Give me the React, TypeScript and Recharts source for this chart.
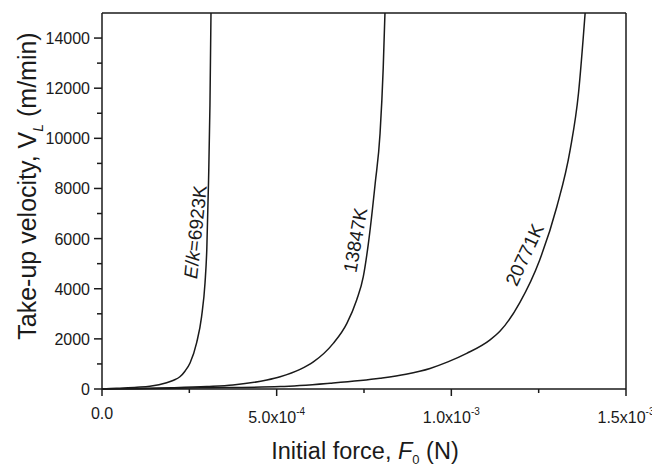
import { LineChart, Line, XAxis, YAxis, Label, ReferenceLine, ReferenceDot } from 'recharts'

// Initial force F0 (N) and take-up velocity VL (m/min), one pair of arrays per E/k curve
const f6923 = [0, 0.42e-4, 1.0e-4, 1.37e-4, 1.85e-4, 2.05e-4, 2.23e-4, 2.38e-4, 2.52e-4, 2.71e-4, 2.85e-4, 2.95e-4, 3.0e-4, 3.05e-4, 3.09e-4, 3.12e-4]
const v6923 = [0, 30, 70, 110, 250, 350, 490, 720, 1040, 1850, 2880, 4250, 5570, 8300, 11300, 15000]

const f13847 = [0, 1.0e-4, 2.0e-4, 3.0e-4, 3.75e-4, 4.72e-4, 5.1e-4, 5.67e-4, 6.05e-4, 6.62e-4, 7.01e-4, 7.29e-4, 7.48e-4, 7.62e-4, 7.82e-4, 7.96e-4, 8.05e-4, 8.1e-4]
const v13847 = [0, 15, 50, 100, 160, 360, 490, 780, 1080, 1820, 2620, 3550, 4480, 5750, 8200, 10200, 12800, 15000]

const f20771 = [0, 1.0e-4, 2.83e-4, 5.1e-4, 6.53e-4, 7.96e-4, 8.7e-4, 9.39e-4, 9.9e-4, 10.44e-4, 11.1e-4, 11.39e-4, 11.96e-4, 12.53e-4, 13.02e-4, 13.4e-4, 13.64e-4, 13.83e-4]
const v20771 = [0, 10, 45, 95, 230, 430, 590, 820, 1080, 1420, 1950, 2300, 3450, 5150, 7270, 9530, 11800, 15000]

const xTicks = [0, 0.00025, 0.0005, 0.00075, 0.001, 0.00125, 0.0015]
const xTickBase = ['0.0', '', '5.0x10', '', '1.0x10', '', '1.5x10']
const xTickExp = ['', '', '-4', '', '-3', '', '-3']

const yTicks = [0, 1000, 2000, 3000, 4000, 5000, 6000, 7000, 8000, 9000, 10000, 11000, 12000, 13000, 14000]
const yTickLabels = ['0', '', '2000', '', '4000', '', '6000', '', '8000', '', '10000', '', '12000', '', '14000']

const curveLabels = ['E/k=6923K', '13847K', '20771K']
const labelF = [2.69e-4, 7.27e-4, 12.11e-4]
const labelV = [6260, 5940, 5345]
const labelAngle = [-84, -80, -65]

const FONT = '"Liberation Sans", Arial, sans-serif'
const INK = '#1a1a1a'

const toPoints = (xs: number[], ys: number[]) => xs.map((x, i) => ({ x, v: ys[i] }))

function XTick(props: any) {
  const { x, y, payload } = props
  const i = xTicks.indexOf(payload.value)
  const major = xTickBase[i] !== ''
  return (
    <g>
      <line x1={x} x2={x} y1={y} y2={y + (major ? 7 : 4)} stroke={INK} strokeWidth={1.5} />
      {major && (
        <text x={x} y={i === 0 ? y + 30 : y + 34} textAnchor="middle" fontFamily={FONT} fontSize={16} fill={INK}>
          {xTickBase[i]}
          {xTickExp[i] && <tspan dy={-8} fontSize={10}>{xTickExp[i]}</tspan>}
        </text>
      )}
    </g>
  )
}

function YTick(props: any) {
  const { x, y, payload } = props
  const i = yTicks.indexOf(payload.value)
  const major = yTickLabels[i] !== ''
  return (
    <g>
      <line x1={x} x2={x - (major ? 8 : 5)} y1={y} y2={y} stroke={INK} strokeWidth={1.5} />
      {major && (
        <text x={x - 12} y={y} dy={6} textAnchor="end" fontFamily={FONT} fontSize={16} fill={INK}>
          {yTickLabels[i]}
        </text>
      )}
    </g>
  )
}

function CurveLabel({ viewBox, idx }: any) {
  const { x, y } = viewBox
  const text = curveLabels[idx]
  return (
    <text x={x} y={y} dy={6} textAnchor="middle" transform={`rotate(${labelAngle[idx]} ${x} ${y})`}
      fontFamily={FONT} fontSize={19} fill={INK}>
      {idx === 0 ? (
        <>
          <tspan fontStyle="italic">E</tspan>/<tspan fontStyle="italic">k</tspan>=6923K
        </>
      ) : text}
    </text>
  )
}

export default function App() {
  return (
    <div style={{ position: 'absolute', left: 0, top: 0, background: '#fff' }}>
      <LineChart width={652} height={468} margin={{ top: 13, right: 26, bottom: 0, left: 0 }}>
        <XAxis
          type="number"
          dataKey="x"
          domain={[0, 0.0015]}
          ticks={xTicks}
          tick={<XTick />}
          tickLine={false}
          tickSize={0}
          tickMargin={0}
          height={79}
          axisLine={{ stroke: INK, strokeWidth: 1.5 }}
          interval={0}
        >
          <Label
            content={() => (
              <text x={365} y={459} textAnchor="middle" fontFamily={FONT} fontSize={23.5} fill={INK}>
                Initial force, <tspan fontStyle="italic">F</tspan>
                <tspan dy={5} fontSize={13}>0</tspan>
                <tspan dy={-5}> (N)</tspan>
              </text>
            )}
          />
        </XAxis>
        <YAxis
          type="number"
          domain={[0, 15000]}
          ticks={yTicks}
          tick={<YTick />}
          tickLine={false}
          tickSize={0}
          tickMargin={0}
          width={102}
          axisLine={{ stroke: INK, strokeWidth: 1.5 }}
          interval={0}
        >
          <Label
            content={() => (
              <text x={36} y={186} textAnchor="middle" transform="rotate(-90 36 186)" fontFamily={FONT} fontSize={25} fill={INK}>
                Take-up velocity, V
                <tspan dy={7} fontSize={14} fontStyle="italic">L</tspan>
                <tspan dy={-7}> (m/min)</tspan>
              </text>
            )}
          />
        </YAxis>
        <ReferenceLine y={15000} stroke={INK} strokeWidth={1.5} />
        <ReferenceLine x={0.0015} stroke={INK} strokeWidth={1.5} />
        <Line data={toPoints(f6923, v6923)} dataKey="v" type="monotone" stroke={INK} strokeWidth={1.5} dot={false} isAnimationActive={false} />
        <Line data={toPoints(f13847, v13847)} dataKey="v" type="monotone" stroke={INK} strokeWidth={1.5} dot={false} isAnimationActive={false} />
        <Line data={toPoints(f20771, v20771)} dataKey="v" type="monotone" stroke={INK} strokeWidth={1.5} dot={false} isAnimationActive={false} />
        {curveLabels.map((_, i) => (
          <ReferenceDot key={i} x={labelF[i]} y={labelV[i]} r={0} fill="none" stroke="none"
            label={<CurveLabel idx={i} />} />
        ))}
      </LineChart>
    </div>
  )
}
